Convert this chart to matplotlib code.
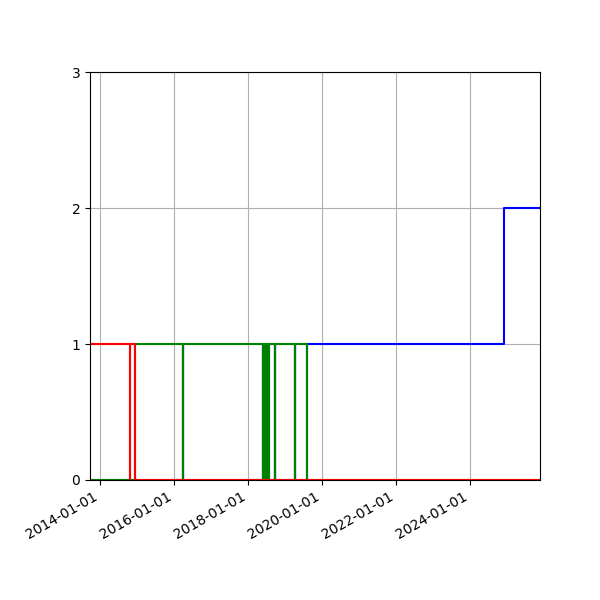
import matplotlib
matplotlib.use("Agg")
import matplotlib.pyplot as plt
import matplotlib.dates as mdates
import pandas as pd

# step series (value holds from date until next date)
red_dates = ["2013-09-23", "2014-10-20", "2014-10-22", "2014-12-14", "2025-11-20"]
red_vals = [1, 0, 1, 0, 0]

green_dates = ["2013-09-23", "2014-12-14",
               "2016-03-27", "2016-03-28",
               "2018-05-27", "2018-05-28",
               "2018-06-07", "2018-06-08",
               "2018-06-18", "2018-06-19",
               "2018-06-29", "2018-06-30",
               "2018-07-10", "2018-07-11",
               "2018-07-20", "2018-07-21",
               "2018-09-21", "2018-09-22",
               "2019-04-08", "2019-04-09",
               "2019-08-06", "2025-11-20"]
green_vals = [0, 1,
              0, 1,
              0, 1,
              0, 1,
              0, 1,
              0, 1,
              0, 1,
              0, 1,
              0, 1,
              0, 1,
              0, 0]

blue_dates = ["2013-09-23",
              "2016-03-27", "2016-03-28",
              "2018-05-27", "2018-05-28",
              "2018-06-07", "2018-06-08",
              "2018-06-18", "2018-06-19",
              "2018-06-29", "2018-06-30",
              "2018-07-10", "2018-07-11",
              "2018-07-20", "2018-07-21",
              "2018-09-21", "2018-09-22",
              "2019-04-08", "2019-04-09",
              "2019-08-06", "2024-12-02", "2025-11-20"]
blue_vals = [0,
             1, 0,
             1, 0,
             1, 0,
             1, 0,
             1, 0,
             1, 0,
             1, 0,
             1, 0,
             1, 0,
             1, 2, 2]

x_start = "2013-09-23"
x_end = "2025-11-20"
y_ticks = [0, 1, 2, 3]

fig, ax = plt.subplots(figsize=(6, 6), dpi=100)
ax.step(pd.to_datetime(blue_dates), blue_vals, where="post", color="blue", lw=1.5)
ax.step(pd.to_datetime(green_dates), green_vals, where="post", color="green", lw=1.5)
ax.step(pd.to_datetime(red_dates), red_vals, where="post", color="red", lw=1.5)

ax.set_xlim(pd.Timestamp(x_start), pd.Timestamp(x_end))
ax.set_ylim(0, 3)
ax.set_yticks(y_ticks)
ax.xaxis.set_major_locator(mdates.YearLocator(2))
ax.xaxis.set_major_formatter(mdates.DateFormatter("%Y-%m-%d"))
ax.grid(True)
fig.autofmt_xdate()
fig.subplots_adjust(left=0.15, right=0.9, top=0.88, bottom=0.2)
fig.savefig("out.png", dpi=100)
